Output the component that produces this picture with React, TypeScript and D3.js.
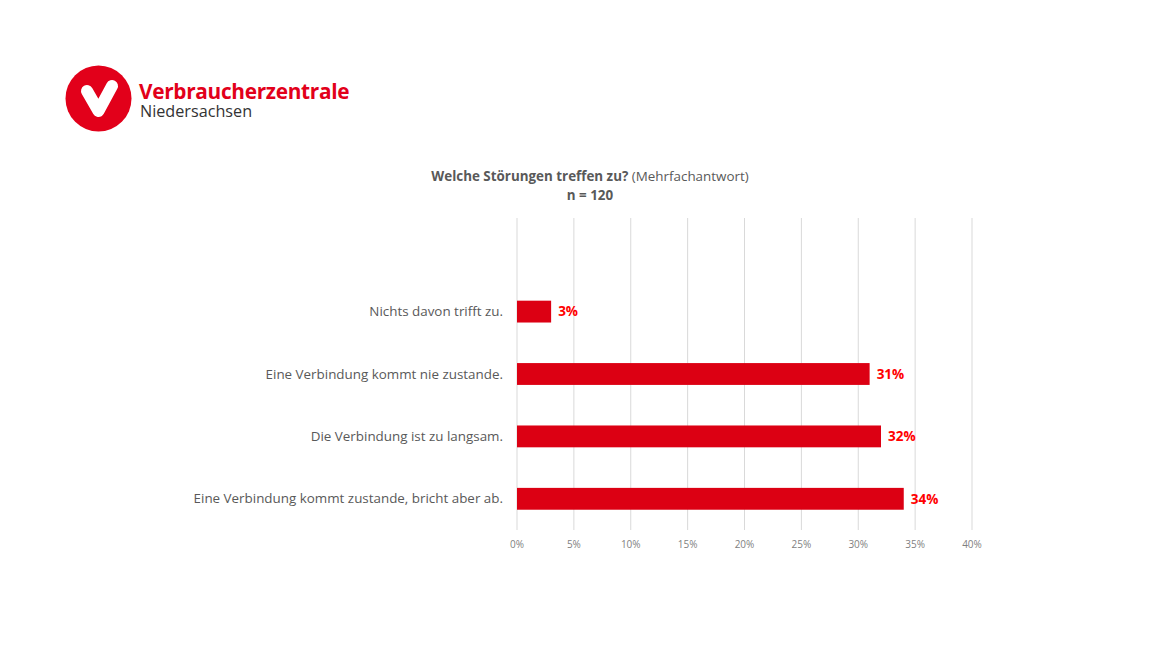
import React from "react";
import * as d3 from "d3";

const categories = [
  "Nichts davon trifft zu.",
  "Eine Verbindung kommt nie zustande.",
  "Die Verbindung ist zu langsam.",
  "Eine Verbindung kommt zustande, bricht aber ab.",
];
const values = [3, 31, 32, 34];
const tickValues = [0, 5, 10, 15, 20, 25, 30, 35, 40];

const W = 1170;
const H = 658;
const FONT = "'Open Sans', Roboto, sans-serif";
const RED = "#e2001a";
const BAR = "#dc0013";
const GRAY = "#595959";

export default function App() {
  const x = d3.scaleLinear().domain([0, 40]).range([517, 972]);
  const plotTop = 218;
  const plotBottom = 530;
  const band = (plotBottom - plotTop) / 5;
  const y = d3
    .scaleBand<string>()
    .domain(categories)
    .range([plotTop + band, plotBottom])
    .paddingInner(0.65)
    .paddingOuter(0.325);

  return (
    <svg
      width={W}
      height={H}
      style={{ position: "fixed", left: 0, top: 0, background: "#fff" }}
      fontFamily={FONT}
    >
      <rect width={W} height={H} fill="#fff" />
      {/* Logo */}
      <circle cx={98.5} cy={98.5} r={33} fill={RED} />
      <path
        d="M87,91 L98.5,111 L112,86"
        fill="none"
        stroke="#fff"
        strokeWidth={12}
        strokeLinecap="round"
        strokeLinejoin="round"
      />
      <text x={139} y={99} fontSize={20.8} fontWeight={700} fill={RED} letterSpacing={-0.3}>
        Verbraucherzentrale
      </text>
      <text x={140} y={117} fontSize={16.2} fill="#333">
        Niedersachsen
      </text>

      {/* Title */}
      <text x={590} y={181} textAnchor="middle" fontSize={13.4} fill={GRAY}>
        <tspan fontWeight={700}>Welche Störungen treffen zu?</tspan>
        <tspan> (Mehrfachantwort)</tspan>
      </text>
      <text x={590} y={200} textAnchor="middle" fontSize={13.4} fontWeight={700} fill={GRAY}>
        n = 120
      </text>

      {/* Gridlines */}
      {tickValues.map((t) => (
        <line
          key={t}
          x1={x(t)}
          x2={x(t)}
          y1={plotTop}
          y2={plotBottom}
          stroke="#d9d9d9"
          strokeWidth={1}
        />
      ))}
      {/* Tick labels */}
      {tickValues.map((t) => (
        <text
          key={"l" + t}
          x={x(t)}
          y={548}
          textAnchor="middle"
          fontSize={10}
          fill="#7f7f7f"
        >
          {t}%
        </text>
      ))}

      {/* Bars */}
      {categories.map((c, i) => {
        const yy = y(c) as number;
        const bw = y.bandwidth();
        return (
          <g key={c}>
            <rect x={x(0)} y={yy} width={x(values[i]) - x(0)} height={bw} fill={BAR} />
            <text
              x={503}
              y={yy + bw / 2}
              dy="0.35em"
              textAnchor="end"
              fontSize={13.4}
              fill={GRAY}
            >
              {c}
            </text>
            <text
              x={x(values[i]) + 7}
              y={yy + bw / 2}
              dy="0.35em"
              fontSize={13.5}
              fontWeight={700}
              fill="#ff0000"
            >
              {values[i]}%
            </text>
          </g>
        );
      })}
    </svg>
  );
}
